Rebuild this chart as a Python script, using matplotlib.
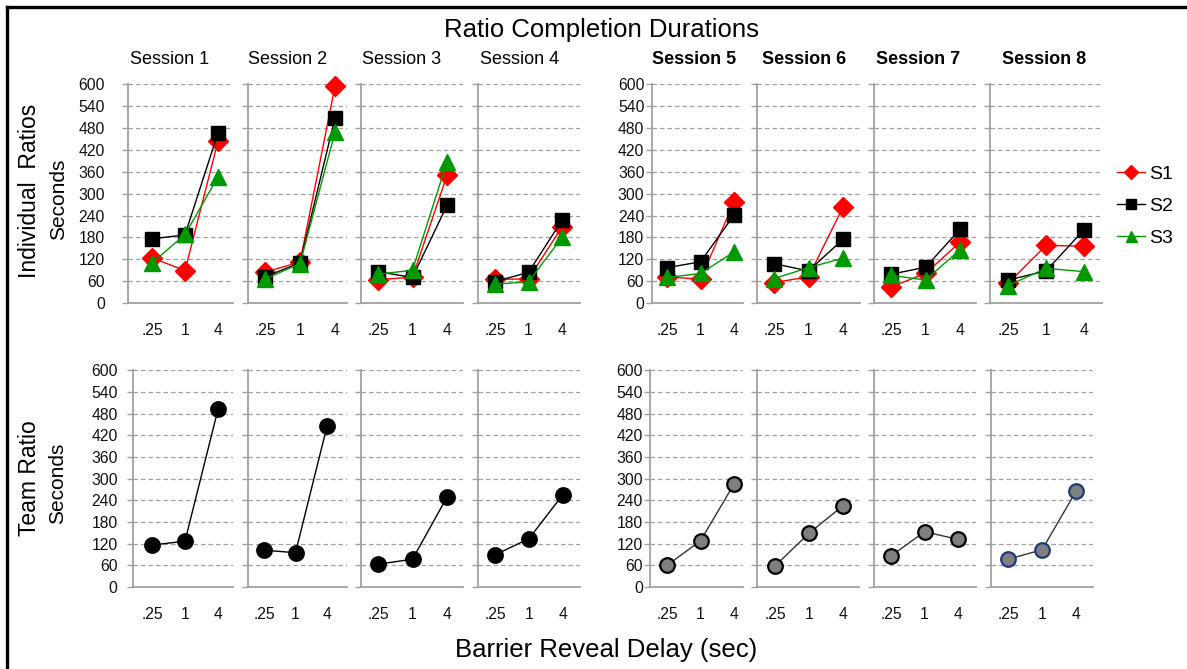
import matplotlib
matplotlib.use("Agg")
import matplotlib.pyplot as plt
from matplotlib.lines import Line2D

plt.rcParams['font.family'] = ['Liberation Sans', 'DejaVu Sans']

# ---------------- data ----------------
sessions = ["Session 1", "Session 2", "Session 3", "Session 4",
            "Session 5", "Session 6", "Session 7", "Session 8"]
delays = [".25", "1", "4"]
yticks = [0, 60, 120, 180, 240, 300, 360, 420, 480, 540, 600]

s1 = [[124, 89, 444], [85, 112, 595], [64, 71, 350], [65, 66, 209],
      [72, 65, 277], [56, 72, 263], [44, 81, 167], [54, 158, 156]]
s2 = [[176, 187, 467], [72, 110, 508], [86, 70, 268], [59, 84, 227],
      [97, 113, 241], [108, 88, 175], [79, 98, 202], [63, 88, 201]]
s3 = [[110, 188, 346], [66, 108, 469], [79, 90, 388], [52, 58, 180],
      [70, 81, 140], [67, 97, 123], [76, 63, 146], [48, 95, 86]]
team = [[116, 127, 492], [102, 95, 445], [63, 77, 249], [89, 134, 256],
        [60, 128, 285], [58, 149, 225], [86, 153, 132], [77, 103, 265]]

# ---------------- layout (pixels) ----------------
W, H = 1187, 669
top_L = [128, 248, 361, 478, 652, 757, 874, 990]
top_R = [233, 347, 463, 580, 743, 860, 976, 1102]
top_p0 = [152, 265, 378, 495, 667, 774, 891, 1008]
top_d = [33, 35, 34.5, 33.5, 33.5, 34.5, 34.5, 38]
bot_L = [133, 248, 361, 478, 650, 757, 874, 991]
bot_R = [233, 347, 463, 580, 743, 859, 976, 1093]
bot_p0 = [152, 264, 378, 495, 667, 775, 891, 1008]
bot_d = [33, 31.5, 34.5, 34, 33.5, 34, 33.5, 34]
top_y0, top_y1 = 303, 84
bot_y0, bot_y1 = 587, 370

GRID = '#A0A0A0'
RED = '#FF0000'
GREEN = '#009A00'

fig = plt.figure(figsize=(W / 100, H / 100), dpi=100)


def make_ax(L, R, y0, y1, p0, d, show_labels, ypad):
    ax = fig.add_axes([L / W, 1 - y0 / H, (R - L) / W, (y0 - y1) / H])
    ax.set_xlim((L - p0) / d, (R - p0) / d)
    ax.set_ylim(0, 601)
    ax.set_xticks(range(3))
    ax.set_xticklabels(delays)
    ax.set_yticks(yticks)
    if show_labels:
        ax.set_yticklabels([str(v) for v in yticks])
    else:
        ax.set_yticklabels([])
    for sp in ['top', 'right']:
        ax.spines[sp].set_visible(False)
    for sp in ['left', 'bottom']:
        ax.spines[sp].set_color(GRID)
        ax.spines[sp].set_linewidth(1.3)
        ax.spines[sp].set_zorder(1)
    ax.tick_params(axis='x', length=0, pad=14.5, labelsize=11.3, colors='#111111')
    ax.tick_params(axis='y', length=4, width=1, color=GRID, direction='out',
                   pad=ypad, labelsize=11.3, labelcolor='#111111')
    for v in yticks[1:]:
        ax.axhline(v, color=GRID, lw=0.9, ls=(0, (3.6, 2.4)), zorder=0.5)
    ax.set_facecolor('none')
    return ax


# top row: individual ratios
for i in range(8):
    show = i in (0, 4)
    pad = 12.5 if i == 0 else 1.5
    ax = make_ax(top_L[i], top_R[i], top_y0, top_y1, top_p0[i], top_d[i], show, pad)
    x = [0, 1, 2]
    l1, = ax.plot(x, s1[i], color=RED, lw=1, marker='D', ms=10.5,
                  mfc=RED, mec=RED, clip_on=False, zorder=3, label='S1')
    l2, = ax.plot(x, s2[i], color='#000000', lw=1, marker='s', ms=10,
                  mfc='black', mec='black', clip_on=False, zorder=4, label='S2')
    l3, = ax.plot(x, s3[i], color=GREEN, lw=1, marker='^', ms=11,
                  mfc=GREEN, mec=GREEN, clip_on=False, zorder=5, label='S3')
    if i == 7:
        handles = [l1, l2, l3]

# bottom row: team ratio
for i in range(8):
    show = i in (0, 4)
    pad = 7 if i == 0 else 1
    ax = make_ax(bot_L[i], bot_R[i], bot_y0, bot_y1, bot_p0[i], bot_d[i], show, pad)
    if i < 4:
        fc, ec, lc = 'black', 'black', 'black'
    elif i < 7:
        fc, ec, lc = '#7F7F7F', 'black', '#333333'
    else:
        fc, ec, lc = '#7F7F7F', '#1F3A78', '#333333'
    ax.plot([0, 1, 2], team[i], color=lc, lw=1, marker='o', ms=10.5,
            mfc=fc, mec=ec, mew=1.6, clip_on=False, zorder=3)

# session titles
title_x = [170, 288, 402, 520, 694, 804, 918, 1044]
for i, name in enumerate(sessions):
    fig.text(title_x[i] / W, 1 - 60 / H, name, ha='center', va='center',
             fontsize=13, fontweight='bold' if i >= 4 else 'normal')

fig.text(602 / W, 1 - 30 / H, "Ratio Completion Durations", ha='center',
         va='center', fontsize=18.5)
fig.text(606 / W, 1 - 650 / H, "Barrier Reveal Delay (sec)", ha='center',
         va='center', fontsize=18.5)

fig.text(30 / W, 1 - 191 / H, "Individual  Ratios", rotation=90, ha='center',
         va='center', fontsize=16.5)
fig.text(59 / W, 1 - 199 / H, "Seconds", rotation=90, ha='center',
         va='center', fontsize=15)
fig.text(30 / W, 1 - 478 / H, "Team Ratio", rotation=90, ha='center',
         va='center', fontsize=16.5)
fig.text(58 / W, 1 - 483 / H, "Seconds", rotation=90, ha='center',
         va='center', fontsize=15)

fig.legend(handles=handles, labels=['S1', 'S2', 'S3'], loc='center left',
           bbox_to_anchor=(1117 / W, 1 - 206 / H), frameon=False, fontsize=14,
           handlelength=1.45, handletextpad=0.2, labelspacing=0.75,
           markerscale=0.72, borderaxespad=0, borderpad=0)

# outer frame (left and top edges)
fig.add_artist(Line2D([7 / W, 7 / W], [0, 1 - 7 / H], transform=fig.transFigure,
                      color='black', lw=2.4))
fig.add_artist(Line2D([7 / W, 1], [1 - 7 / H, 1 - 7 / H], transform=fig.transFigure,
                      color='black', lw=2.4))

fig.savefig("out.png", dpi=100, facecolor='white')
